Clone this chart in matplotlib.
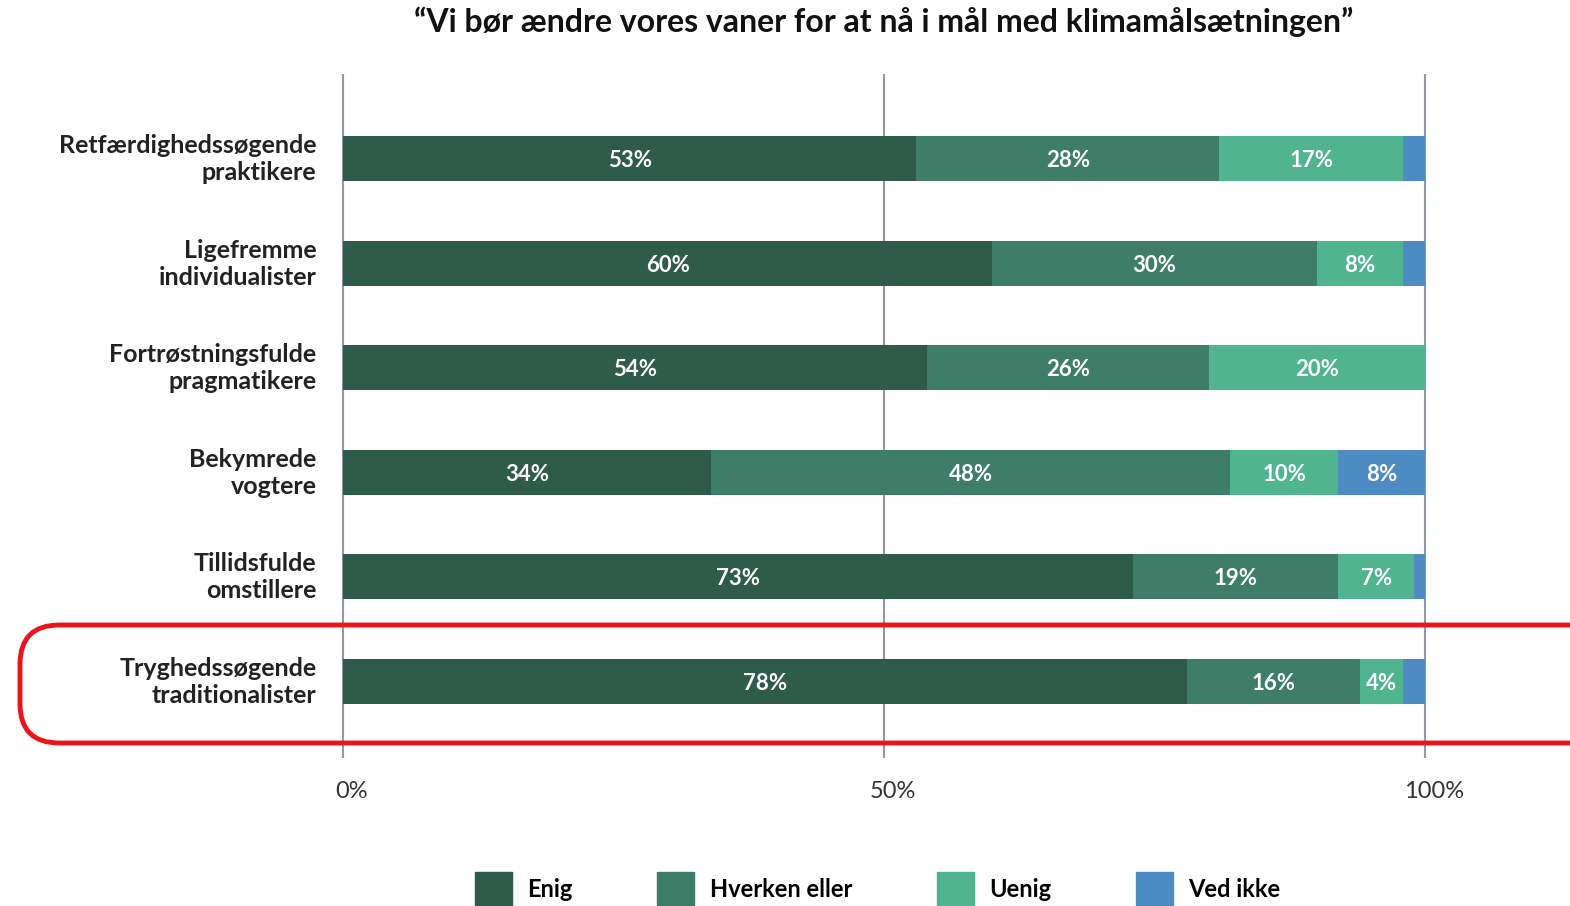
import matplotlib.pyplot as plt
import matplotlib.transforms as mtransforms
from matplotlib.patches import FancyBboxPatch, Patch
import numpy as np

plt.rcParams['font.family'] = ['Lato', 'DejaVu Sans']

groups = ['Retfærdighedssøgende\npraktikere', 'Ligefremme\nindividualister',
          'Fortrøstningsfulde\npragmatikere', 'Bekymrede\nvogtere',
          'Tillidsfulde\nomstillere', 'Tryghedssøgende\ntraditionalister']
enig = [53, 60, 54, 34, 73, 78]
hverken = [28, 30, 26, 48, 19, 16]
uenig = [17, 8, 20, 10, 7, 4]
ved_ikke = [2, 2, 0, 8, 1, 2]

series = [('Enig', enig, '#2f5b4b'),
          ('Hverken eller', hverken, '#3e7e68'),
          ('Uenig', uenig, '#4fb48f'),
          ('Ved ikke', ved_ikke, '#4f8bc3')]

fig = plt.figure(figsize=(15.7, 9.06), dpi=100)
ax = fig.add_axes([343/1570, 1-750/906, (1425-343)/1570, (750-75)/906])

y = np.arange(len(groups))
left = np.zeros(len(groups))
for name, vals, col in series:
    vals = np.array(vals, dtype=float)
    ax.barh(y, vals, left=left, height=0.43, color=col, label=name, zorder=2)
    for yi, l, v in zip(y, left, vals):
        if v >= 4:
            ax.text(l + v/2, yi + 0.02, f'{int(v)}%', ha='center', va='center',
                    color='white', fontsize=16, fontweight='bold', zorder=3)
    left += vals

ax.set_xlim(0, 100)
ax.set_ylim(5.66, -0.8)
for xv in [0, 50, 100]:
    ax.axvline(xv, color='#8e98a8', lw=1.5, zorder=1, ymin=-0.01, clip_on=False)

ax.set_yticks(y - 0.03)
ax.set_yticklabels(groups, fontsize=18, fontweight='bold', color='#222222',
                   linespacing=1.2)
ax.tick_params(axis='y', length=0, pad=19)
ax.set_xticks([0, 50, 100])
ax.set_xticklabels(['0%', '50%', '100%'], fontsize=17, color='#333333')
ax.tick_params(axis='x', length=0, pad=22)
shift = mtransforms.ScaledTranslation(9/100, 0, fig.dpi_scale_trans)
for lab in ax.get_xticklabels():
    lab.set_transform(lab.get_transform() + shift)
for s in ax.spines.values():
    s.set_visible(False)

fig.text(0.563, 1-22/906, '\u201cVi bør ændre vores vaner for at nå i mål med klimamålsætningen\u201d',
         ha='center', va='center', fontsize=23, fontweight='bold', color='#111111')

# red highlight around the last group
box = FancyBboxPatch((20/1570, 1-743/906), 1.1, (743-625)/906,
                     boxstyle='round,pad=0,rounding_size=0.025',
                     transform=fig.transFigure, fill=False, ec='#e8161b', lw=3.5,
                     mutation_aspect=1570/906, zorder=5)
fig.patches.append(box)

handles = [Patch(color=c, label=n) for n, _, c in series]
fig.legend(handles=handles, loc='center', bbox_to_anchor=(0.559, 1-890/906), ncol=4,
           frameon=False, handlelength=1.57, handleheight=2.0,
           columnspacing=3.6, handletextpad=0.64, prop={'weight': 'bold', 'size': 17})

fig.savefig('out.png', dpi=100)
